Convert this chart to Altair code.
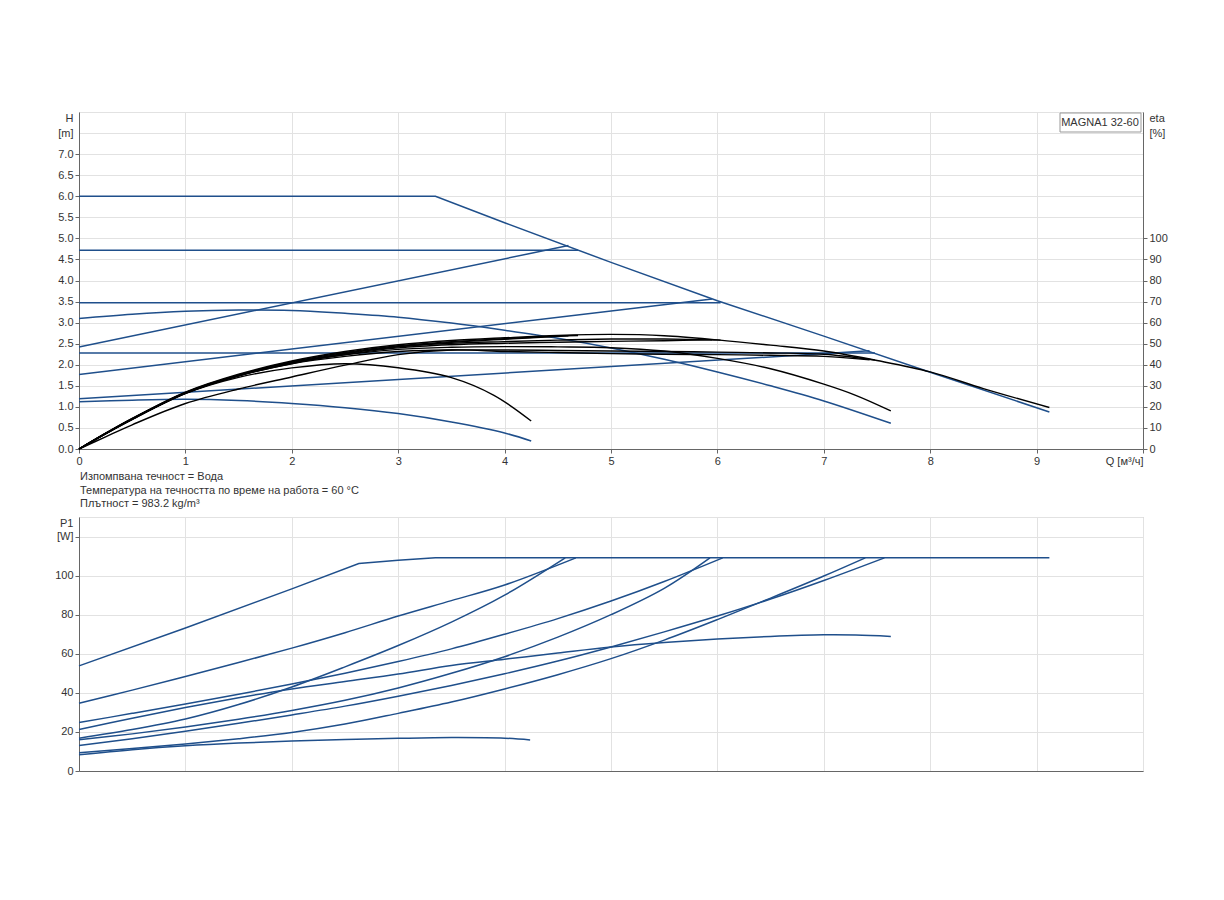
import altair as alt
import pandas as pd

BLUE = "#1f4f8b"
FONT = "Liberation Sans"

# ---------------- Q-H curves (H in m) ----------------
qh_max_q = [0, 3.35, 4.0, 5.0, 6.0, 7.0, 8.0, 9.12]
qh_max_h = [6.0, 6.0, 5.37, 4.43, 3.52, 2.68, 1.82, 0.88]
qh_cp3_q = [0, 4.69]
qh_cp3_h = [4.72, 4.72]
qh_cp2_q = [0, 6.03]
qh_cp2_h = [3.47, 3.47]
qh_cp1_q = [0, 7.48]
qh_cp1_h = [2.28, 2.28]
qh_pp3_q = [0, 4.6]
qh_pp3_h = [2.42, 4.83]
qh_pp2_q = [0, 5.95]
qh_pp2_h = [1.77, 3.56]
qh_pp1_q = [0, 7.43]
qh_pp1_h = [1.19, 2.33]
qh_s2_q = [0, 0.5, 1, 1.5, 2, 2.5, 3, 3.5, 4, 4.5, 5, 5.5, 6, 6.5, 7, 7.63]
qh_s2_h = [3.10, 3.20, 3.27, 3.30, 3.29, 3.22, 3.13, 2.99, 2.82, 2.63, 2.40, 2.13, 1.83, 1.50, 1.14, 0.61]
qh_s1_q = [0, 0.5, 1, 1.5, 2, 2.5, 3, 3.5, 4, 4.25]
qh_s1_h = [1.12, 1.16, 1.18, 1.15, 1.08, 0.98, 0.84, 0.64, 0.38, 0.19]

# ---------------- efficiency curves (eta in %) ----------------
eta_max_q = [0, 0.25, 0.5, 1, 1.5, 2, 2.5, 3, 3.5, 4, 4.5, 5, 5.5, 6, 6.5, 7, 7.5, 8, 8.5, 9.12]
eta_max = [0, 7.5, 14.5, 27.0, 35.5, 41.8, 46.3, 49.5, 51.5, 52.8, 53.9, 54.4, 53.8, 51.8, 49.3, 46.5, 42.0, 36.6, 28.7, 19.7]
eta_cp3_q = [0, 0.25, 0.5, 1, 1.5, 2, 2.5, 3, 3.5, 4, 4.5, 4.69]
eta_cp3 = [0, 7.4, 14.4, 26.8, 35.2, 41.4, 45.8, 49.0, 51.0, 52.4, 53.6, 53.9]
eta_pp3_q = [0, 0.25, 0.5, 1, 1.5, 2, 2.5, 3, 3.5, 4, 4.6]
eta_pp3 = [0, 7.3, 14.2, 26.5, 34.8, 40.9, 45.2, 48.5, 50.6, 52.1, 53.8]
eta_cp2_q = [0, 0.25, 0.5, 1, 1.5, 2, 2.5, 3, 3.5, 4, 4.5, 5, 5.5, 6.03]
eta_cp2 = [0, 7.4, 14.3, 26.6, 35.0, 41.0, 45.4, 48.6, 50.2, 51.0, 51.7, 52.2, 52.2, 51.7]
eta_pp2_q = [0, 0.25, 0.5, 1, 1.5, 2, 2.5, 3, 3.5, 4, 4.5, 5, 5.5, 5.95]
eta_pp2 = [0, 7.3, 14.2, 26.4, 34.7, 40.6, 44.8, 48.0, 49.5, 50.2, 50.7, 51.1, 51.4, 51.8]
eta_cp1_q = [0, 0.25, 0.5, 1, 1.5, 2, 2.5, 3, 3.5, 4, 4.5, 5, 5.5, 6, 6.5, 7, 7.48]
eta_cp1 = [0, 7.3, 14.2, 26.5, 34.8, 40.5, 44.0, 46.3, 47.0, 47.0, 46.8, 46.5, 46.3, 46.0, 45.6, 45.0, 42.2]
eta_pp1_q = [0, 0.25, 0.5, 1, 1.5, 2, 2.5, 3, 3.5, 4, 4.5, 5, 5.5, 6, 6.5, 7, 7.43]
eta_pp1 = [0, 5.8, 11.5, 21.6, 28.5, 34.2, 39.8, 44.8, 47.0, 46.3, 45.8, 45.3, 45.0, 44.8, 44.5, 44.0, 42.4]
eta_s2_q = [0, 0.25, 0.5, 1, 1.5, 2, 2.5, 3, 3.5, 4, 4.5, 5, 5.5, 6, 6.5, 7, 7.3, 7.63]
eta_s2 = [0, 7.3, 14.3, 26.7, 35.0, 40.8, 44.7, 47.3, 48.3, 48.6, 48.5, 48.1, 46.5, 43.0, 38.1, 30.8, 25.5, 18.1]
eta_s1_q = [0, 0.25, 0.5, 1, 1.5, 2, 2.5, 3, 3.5, 3.9, 4.25]
eta_s1 = [0, 7.2, 14.0, 26.3, 34.0, 38.5, 40.5, 38.6, 33.9, 25.5, 13.3]

# ---------------- power curves (P1 in W) ----------------
p_max_q = [0, 1, 2, 2.63, 3.0, 3.35, 9.12]
p_max = [53.8, 73.2, 93.2, 106.2, 107.9, 109.1, 109.1]
p_cp3_q = [0, 0.5, 1, 1.5, 2, 2.5, 3, 3.5, 4, 4.67]
p_cp3 = [34.7, 41.4, 48.4, 55.5, 62.9, 70.8, 79.3, 87.2, 95.2, 109.1]
p_pp3_q = [0, 0.5, 1, 1.5, 2, 2.5, 3, 3.5, 4, 4.57]
p_pp3 = [16.8, 21.2, 26.6, 34.0, 43.0, 53.3, 64.2, 76.2, 90.0, 109.1]
p_cp2_q = [0, 0.5, 1, 1.5, 2, 2.5, 3, 3.5, 4, 4.5, 5, 5.5, 6.05]
p_cp2 = [24.8, 29.5, 34.3, 39.3, 44.5, 50.0, 56.0, 62.5, 70.0, 78.0, 87.0, 97.0, 109.1]
p_pp2_q = [0, 0.5, 1, 1.5, 2, 2.5, 3, 3.5, 4, 4.5, 5, 5.5, 5.93]
p_pp2 = [16.0, 19.0, 22.5, 26.5, 31.0, 36.2, 42.5, 50.0, 58.5, 68.5, 80.0, 93.5, 109.1]
p_cp1_q = [0, 0.5, 1, 1.5, 2, 2.5, 3, 3.5, 4, 4.5, 5, 5.5, 6, 6.5, 7, 7.57]
p_cp1 = [13.0, 16.5, 20.3, 24.4, 28.7, 33.2, 38.3, 43.8, 49.8, 56.3, 63.5, 71.2, 79.3, 88.0, 97.5, 109.1]
p_pp1_q = [0, 0.5, 1, 1.5, 2, 2.5, 3, 3.5, 4, 4.5, 5, 5.5, 6, 6.5, 7, 7.39]
p_pp1 = [9.4, 11.5, 13.8, 16.5, 19.7, 24.0, 29.5, 35.3, 42.0, 49.3, 57.5, 67.0, 77.5, 88.5, 99.8, 109.1]
p_s2_q = [0, 0.5, 1, 1.5, 2, 2.5, 3, 3.5, 4, 4.5, 5, 5.5, 6, 6.5, 7, 7.3, 7.63]
p_s2 = [21.2, 27.0, 32.5, 37.5, 42.0, 45.8, 49.6, 54.0, 57.2, 60.4, 63.5, 65.8, 67.6, 68.9, 69.7, 69.6, 68.9]
p_s1_q = [0, 0.5, 1, 1.5, 2, 2.5, 3, 3.5, 4, 4.24]
p_s1 = [8.3, 10.9, 12.9, 14.3, 15.3, 16.1, 16.7, 17.1, 16.8, 15.9]

# ---------------- texts ----------------
x_ticks = list(range(0, 11))
h_ticks = [i * 0.5 for i in range(17)]
eta_ticks = [0, 10, 20, 30, 40, 50, 60, 70, 80, 90, 100, 150, 160]
p_ticks = [0, 20, 40, 60, 80, 100, 120, 130]
model_label = "MAGNA1 32-60"
notes = "Изпомпвана течност = Вода\nТемпература на течността по време на работа = 60 °C\nПлътност = 983.2 kg/m³"


def long(pairs):
    rows = []
    for name, qs, vs in pairs:
        for q, v in zip(qs, vs):
            rows.append({"curve": name, "Q": q, "v": v})
    return pd.DataFrame(rows)


df_qh = long([
    ("cp3", qh_cp3_q, qh_cp3_h), ("cp2", qh_cp2_q, qh_cp2_h), ("cp1", qh_cp1_q, qh_cp1_h),
    ("pp3", qh_pp3_q, qh_pp3_h), ("pp2", qh_pp2_q, qh_pp2_h), ("pp1", qh_pp1_q, qh_pp1_h),
    ("s2", qh_s2_q, qh_s2_h), ("s1", qh_s1_q, qh_s1_h),
])
df_qh_max = long([("max", qh_max_q, qh_max_h)])
df_eta = long([
    ("max", eta_max_q, eta_max), ("cp3", eta_cp3_q, eta_cp3), ("pp3", eta_pp3_q, eta_pp3),
    ("cp2", eta_cp2_q, eta_cp2), ("pp2", eta_pp2_q, eta_pp2), ("cp1", eta_cp1_q, eta_cp1),
    ("pp1", eta_pp1_q, eta_pp1), ("s2", eta_s2_q, eta_s2), ("s1", eta_s1_q, eta_s1),
])
df_p = long([
    ("cp3", p_cp3_q, p_cp3), ("pp3", p_pp3_q, p_pp3), ("cp2", p_cp2_q, p_cp2),
    ("pp2", p_pp2_q, p_pp2), ("cp1", p_cp1_q, p_cp1), ("pp1", p_pp1_q, p_pp1),
    ("s2", p_s2_q, p_s2), ("s1", p_s1_q, p_s1),
])
df_p_max = long([("max", p_max_q, p_max)])

W = 1064
H_TOP = 337
H_BOT = 254
GRID = "#e2e2e2"
DOMAIN = "#666666"
LABEL = "#333333"

base_axis = dict(labelFont=FONT, labelFontSize=11, labelColor=LABEL, domainColor=DOMAIN,
                 gridColor=GRID, title=None, labelPadding=2, tickSize=4)

x_top_axis = alt.Axis(
    values=x_ticks, grid=True, labelFlush=False, tickColor=DOMAIN,
    labelExpr="datum.value >= 10 ? 'Q [м³/ч]' : datum.label",
    labelAlign={"condition": {"test": "datum.value >= 10", "value": "right"}, "value": "center"},
    **base_axis)
x_bot_axis = alt.Axis(values=x_ticks, grid=True, labels=False, ticks=False,
                      domainColor=DOMAIN, gridColor=GRID, title=None)

h_axis = alt.Axis(
    values=h_ticks, grid=True,
    labelExpr="datum.value >= 8 ? 'H' : datum.value >= 7.5 ? '[m]' : format(datum.value, '.1f')",
    labelBaseline={"condition": {"test": "datum.value >= 8", "value": "top"}, "value": "middle"},
    tickColor={"condition": {"test": "datum.value >= 7.5", "value": "transparent"}, "value": DOMAIN},
    **base_axis)
eta_axis = alt.Axis(
    values=eta_ticks, grid=False, orient="right",
    labelExpr="datum.value >= 160 ? 'eta' : datum.value >= 150 ? '[%]' : datum.label",
    labelBaseline={"condition": {"test": "datum.value >= 160", "value": "top"}, "value": "middle"},
    tickColor={"condition": {"test": "datum.value >= 150", "value": "transparent"}, "value": DOMAIN},
    **base_axis)
p_axis = alt.Axis(
    values=p_ticks, grid=True,
    labelExpr="datum.value >= 130 ? 'P1' : datum.value >= 120 ? '[W]' : datum.label",
    labelBaseline={"condition": {"test": "datum.value >= 130", "value": "top"}, "value": "middle"},
    tickColor={"condition": {"test": "datum.value >= 130", "value": "transparent"}, "value": DOMAIN},
    **base_axis)

xs = alt.Scale(domain=[0, 10], nice=False, zero=False)
x_top = alt.X("Q:Q", scale=xs, axis=x_top_axis)
x_bot = alt.X("Q:Q", scale=xs, axis=x_bot_axis)
y_h = alt.Y("v:Q", scale=alt.Scale(domain=[0, 8], nice=False), axis=h_axis)
y_eta = alt.Y("v:Q", scale=alt.Scale(domain=[0, 160], nice=False), axis=eta_axis)
y_p = alt.Y("v:Q", scale=alt.Scale(domain=[0, 130], nice=False), axis=p_axis)

SMOOTH = "catmull-rom"

blue_curves = alt.Chart(df_qh).mark_line(color=BLUE, strokeWidth=1.5, interpolate=SMOOTH).encode(
    x=x_top, y=y_h, detail="curve:N")
blue_max = alt.Chart(df_qh_max).mark_line(color=BLUE, strokeWidth=1.5).encode(x=x_top, y=y_h)

one = pd.DataFrame({"t": [notes]})
notes_text = alt.Chart(one).mark_text(
    align="left", baseline="top", lineBreak="\n", lineHeight=13.5, font=FONT, fontSize=11, color=LABEL
).encode(x=alt.value(1), y=alt.value(359), text="t:N")

box_df = pd.DataFrame({"t": [model_label]})
box = alt.Chart(box_df).mark_rect(fill="white", stroke="#999999", strokeWidth=1).encode(
    x=alt.value(981), x2=alt.value(1062), y=alt.value(1), y2=alt.value(20))
box_text = alt.Chart(box_df).mark_text(font=FONT, fontSize=11, color=LABEL, align="center",
                                       baseline="middle").encode(
    x=alt.value(1021), y=alt.value(10.5), text="t:N")

eta_curves = alt.Chart(df_eta).mark_line(color="black", strokeWidth=1.4, interpolate=SMOOTH).encode(
    x=x_top, y=y_eta, detail="curve:N")

top = alt.layer(
    alt.layer(blue_curves, blue_max, notes_text, box, box_text),
    eta_curves,
).resolve_scale(y="independent").properties(width=W, height=H_TOP)

p_curves = alt.Chart(df_p).mark_line(color=BLUE, strokeWidth=1.5, interpolate=SMOOTH).encode(
    x=x_bot, y=y_p, detail="curve:N")
p_max_line = alt.Chart(df_p_max).mark_line(color=BLUE, strokeWidth=1.5).encode(x=x_bot, y=y_p)

bottom = alt.layer(p_curves, p_max_line).properties(width=W, height=H_BOT)

chart = alt.vconcat(top, bottom, spacing=68, bounds="flush").properties(
    padding={"left": 46, "top": 103, "right": 10, "bottom": 10}
).configure(font=FONT).configure_view(stroke="#b8b8b8")

chart.save("out.html", embed_options={"renderer": "svg", "actions": False})
